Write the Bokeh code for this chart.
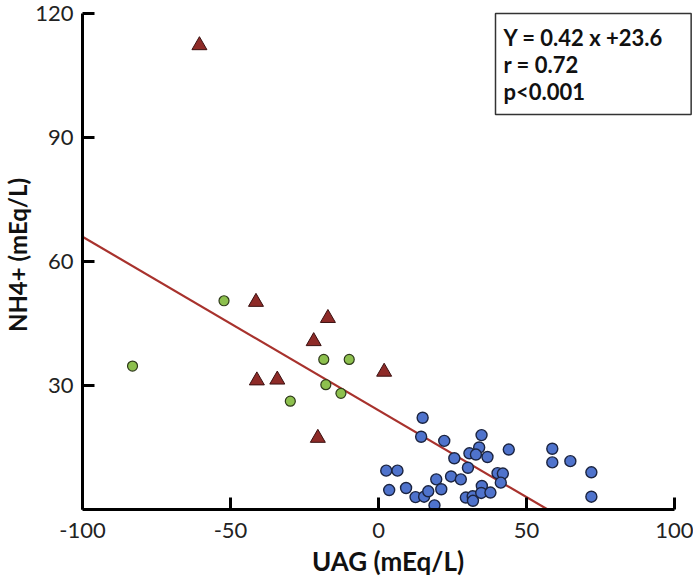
from bokeh.plotting import figure
from bokeh.models import Range1d, FixedTicker, Label
from bokeh.embed import file_html
from bokeh.resources import INLINE
import numpy as np

# ---- data ----
tri_x = [-60.5, -41.4, -17.1, -21.9, -41.1, -34.2, -20.5, 1.9]
tri_y = [112.3, 50.2, 46.3, 40.7, 31.2, 31.4, 17.3, 33.3]

green_x = [-83.1, -52.2, -18.5, -9.9, -17.8, -12.7, -29.8]
green_y = [34.7, 50.5, 36.3, 36.3, 30.2, 28.1, 26.2]

blue_x = [14.9, 14.4, 22.2, 34.8, 34.0, 30.7, 32.9, 36.8, 44.0, 25.6, 30.2,
          58.7, 58.7, 64.8, 71.9, 71.9, 2.6, 6.4, 3.6, 9.3, 12.5, 15.4,
          16.8, 18.9, 19.5, 21.2, 24.5, 27.8, 29.5, 31.8, 31.9, 34.9, 34.7,
          37.8, 40.2, 42.0, 41.3]
blue_y = [22.2, 17.6, 16.6, 18.0, 15.0, 13.6, 13.3, 12.7, 14.5, 12.4, 10.1,
          14.7, 11.4, 11.7, 9.0, 3.1, 9.4, 9.4, 4.7, 5.2, 3.0, 3.1,
          4.4, 1.0, 7.3, 4.9, 8.0, 7.3, 2.9, 3.2, 2.1, 5.7, 4.0,
          4.1, 8.8, 8.7, 6.5]

fit_intercept = 24.0
fit_slope = -0.42

x_ticks = [-100, -50, 0, 50, 100]
x_tick_labels = ["-100", "-50", "0", "50", "100"]
y_ticks = [30, 60, 90, 120]

x_title = "UAG (mEq/L)"
y_title = "NH4+ (mEq/L)"
stats_text = "Y = 0.42 x +23.6\nr = 0.72\np<0.001"

# ---- figure ----
W, H = 693, 584
BL, BR, BT, BB = 80, 0, 0, 75
p = figure(width=W, height=H, output_backend="svg", toolbar_location=None,
           x_range=Range1d(-100, 106.4), y_range=Range1d(0, 123.15),
           min_border_left=BL, min_border_right=BR, min_border_top=BT,
           min_border_bottom=BB)
p.outline_line_color = None
p.grid.visible = False
p.background_fill_color = "white"

for ax in (p.xaxis[0], p.yaxis[0]):
    ax.axis_line_width = 3
    ax.axis_line_color = "black"
    ax.major_tick_line_width = 3
    ax.major_tick_line_color = "black"
    ax.major_tick_in = 12
    ax.major_tick_out = 0
    ax.minor_tick_line_color = None
    ax.major_label_text_font = "Lato"
    ax.major_label_text_font_size = "22px"
    ax.major_label_text_color = "#222222"
    ax.axis_label_text_font = "Lato"
    ax.axis_label_text_font_style = "bold"
    ax.axis_label_text_color = "#111111"

p.xaxis.bounds = (-100, 100)
p.yaxis.bounds = (0, 120)
p.xaxis.ticker = FixedTicker(ticks=x_ticks)
p.xaxis.major_label_overrides = {t: s for t, s in zip(x_ticks, x_tick_labels)}
p.yaxis.ticker = FixedTicker(ticks=y_ticks)
p.xaxis.major_label_standoff = 13
p.yaxis.major_label_standoff = 9
p.xaxis.axis_label = x_title
p.yaxis.axis_label = y_title
p.xaxis.axis_label_text_font_size = "26px"
p.yaxis.axis_label_text_font_size = "24px"
p.xaxis.axis_label_standoff = 4
p.yaxis.axis_label_standoff = 0

# regression line
lx = np.array([-100.0, -fit_intercept / fit_slope])
ly = fit_intercept + fit_slope * lx
p.line(lx, ly, line_color="#A8322D", line_width=2.2)

p.scatter(green_x, green_y, marker="circle", size=10,
          fill_color="#8DC04E", line_color="#2E3A1A", line_width=1.2)
p.scatter(blue_x, blue_y, marker="circle", size=11,
          fill_color="#4F73CC", line_color="#1B2440", line_width=1.4)
p.scatter(tri_x, tri_y, marker="triangle", size=15,
          fill_color="#8E2B28", line_color="#3A1010", line_width=1)

# statistics box (screen units relative to the frame's bottom-left)
frame_bottom = H - BB
p.add_layout(Label(x=413, y=frame_bottom - 13, x_units="screen",
                   y_units="screen", text=stats_text, text_font="Lato",
                   text_font_style="bold", text_font_size="22px",
                   text_color="#111111", text_line_height=1.0,
                   anchor="top_left", text_align="left",
                   border_line_color="#333333", border_line_width=1.5,
                   background_fill_color="white",
                   padding=dict(left=8, right=28, top=10, bottom=10)))

open("out.html", "w").write(file_html(p, INLINE))
